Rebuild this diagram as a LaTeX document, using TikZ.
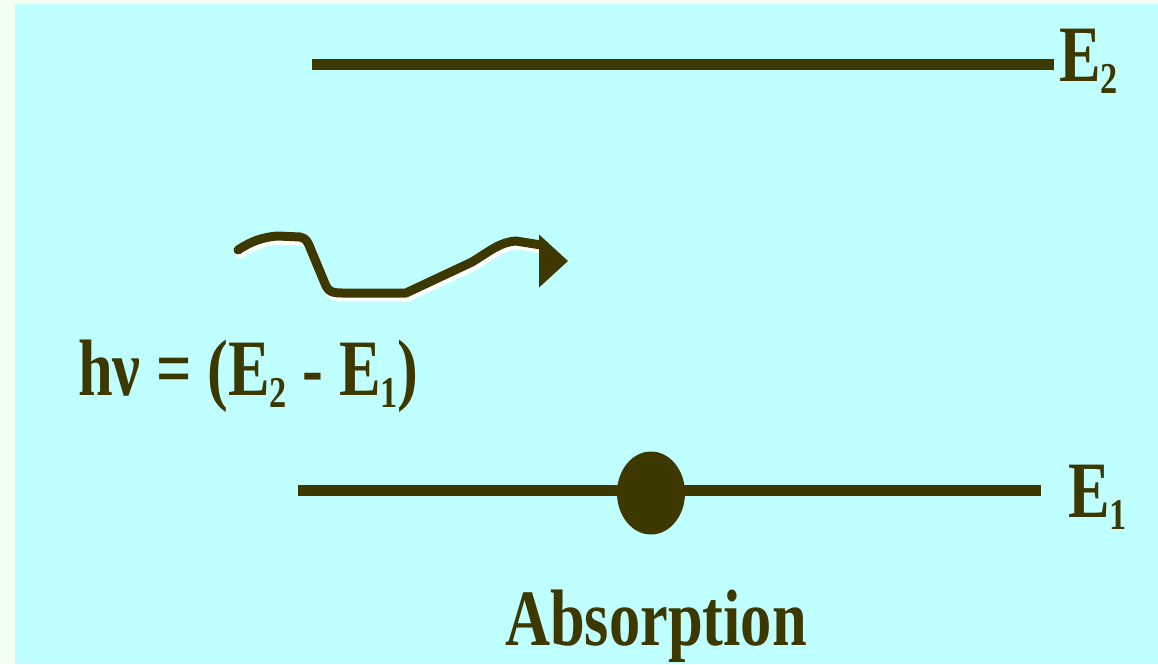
\documentclass[tikz,border=0pt]{standalone}
\usepackage{fontspec}
\usetikzlibrary{positioning, shapes.geometric}
\newfontfamily\labelfont{Liberation Serif}[FakeStretch=0.78]
\definecolor{Sky}{HTML}{C0FFFF}
\definecolor{Mint}{HTML}{F4FFF4}
\definecolor{Olive}{HTML}{3C3800}
\newcommand\lowidx[1]{\raisebox{-12pt}{\fontsize{44}{48}\selectfont #1}}
\newcommand\photonpath{(238,250) .. controls (250,242) and (262,237) .. (278,236) -- (300,237) .. controls (306,238) and (308,242) .. (311,250) -- (326,286) .. controls (329,292) and (333,293) .. (342,293) -- (406,293) -- (472,262) .. controls (490,251) and (500,242) .. (516,241) -- (541,245)}

\begin{document}
\begin{tikzpicture}[
  x=1pt, y=-1pt,
  level/.style={draw=Olive, line width=11pt},
  wave/.style={line width=9pt, line join=round, line cap=round},
  lbl/.style={inner sep=0pt, text=Olive, font=\labelfont\bfseries\fontsize{80}{90}\selectfont, anchor=base west}
]
\fill[Mint] (0,0) rectangle (1158,664);
\fill[Sky] (15,4) rectangle (1158,664);
\useasboundingbox (0,0) rectangle (1158,664);

\node[lbl] (upper) at (1059,81) {E\lowidx{2}};
\node[lbl] (lower) at (1068,517) {E\lowidx{1}};
\node[lbl] (energy) at (78,395) {hν = (E\lowidx{2} - E\lowidx{1})};
\node[lbl] (caption) at (505,645) {Absorption};

\coordinate (upperstart) at (312,64.5);
\coordinate (upperend) at (1054,64.5);
\coordinate (lowerstart) at (298,490);
\coordinate (lowerend) at (1041,490);
\draw[level] (upperstart) -- (upperend);
\draw[level] (lowerstart) -- (lowerend);

\node[ellipse, fill=Olive, inner sep=0pt, minimum width=68pt, minimum height=83pt] (electron) at (651,493) {};

\draw[wave, white, shift={(2,4)}] \photonpath;
\draw[wave, Olive] \photonpath;
\draw[Olive, line width=4pt, fill=Olive] (541,239) -- (565,261) -- (541,283) -- cycle;
\end{tikzpicture}
\end{document}
